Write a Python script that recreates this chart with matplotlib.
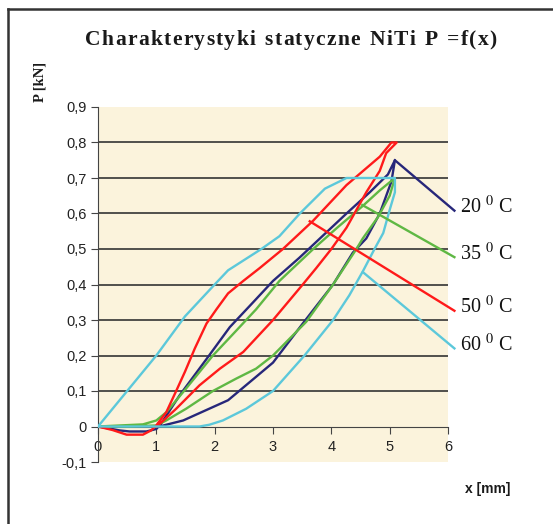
import numpy as np
import matplotlib.pyplot as plt
from matplotlib.lines import Line2D

plt.rcParams['font.family'] = ['Liberation Sans', 'DejaVu Sans']
plt.rcParams['mathtext.fontset'] = 'stix'

# 20 C - dip, loading branch, unloading branch
x20 = [0, 0.37, 0.54, 0.83, 1.0, 1.09, 1.4, 1.86, 2.26, 2.66, 3.0, 3.45, 4.26, 4.66, 4.97, 5.09,
       5.03, 4.83, 4.6, 4.37, 4.03, 3.51, 3.0, 2.71, 2.23, 1.46, 1.05]
y20 = [0, -0.011, -0.014, -0.014, -0.007, 0.01, 0.088, 0.19, 0.28, 0.35, 0.41, 0.475, 0.60, 0.66, 0.71, 0.75,
       0.69, 0.60, 0.53, 0.49, 0.40, 0.29, 0.18, 0.14, 0.074, 0.017, 0.0]

# 35 C
x35 = [0, 0.77, 1.0, 1.17, 1.51, 1.97, 2.37, 2.71, 3.11, 3.69, 4.1, 4.53, 4.83, 5.09,
       5.0, 4.8, 4.54, 4.43, 4.03, 3.57, 3.0, 2.71, 2.37, 1.97, 1.51, 1.17, 1.0, 0.5, 0]
y35 = [0, 0.006, 0.017, 0.04, 0.107, 0.2, 0.27, 0.33, 0.41, 0.50, 0.56, 0.62, 0.665, 0.70,
       0.65, 0.59, 0.53, 0.50, 0.40, 0.295, 0.2, 0.163, 0.135, 0.10, 0.05, 0.017, 0.003, 0.0, 0]

# 50 C
x50 = [0, 0.25, 0.49, 0.77, 0.91, 1.0, 1.03, 1.17, 1.34, 1.49, 1.66, 1.86, 2.03, 2.23, 2.49, 2.77, 3.17,
       3.69, 4.26, 4.83, 5.03, 5.12,
       4.94, 4.83, 4.6, 4.26, 4.0, 3.74, 3.51, 3.0, 2.49, 2.09, 1.74, 1.34, 1.09, 1.0]
y50 = [0, -0.01, -0.023, -0.023, -0.011, 0.003, 0.01, 0.04, 0.10, 0.154, 0.22, 0.29, 0.33, 0.375, 0.41, 0.446, 0.50,
       0.58, 0.68, 0.76, 0.80, 0.80,
       0.77, 0.72, 0.66, 0.56, 0.50, 0.446, 0.40, 0.30, 0.21, 0.163, 0.116, 0.05, 0.012, 0.0]

# 60 C
x60 = [0, 1.0, 1.49, 2.0, 2.23, 2.8, 3.11, 3.46, 3.89, 4.26, 5.09,
       5.09, 5.0, 4.89, 4.74, 4.54, 4.31, 4.03, 3.8, 3.54, 3.0, 2.54, 2.14, 1.91, 1.74, 0]
y60 = [0, 0.2, 0.31, 0.40, 0.44, 0.5, 0.536, 0.60, 0.67, 0.70, 0.70,
       0.66, 0.61, 0.545, 0.50, 0.437, 0.37, 0.30, 0.253, 0.2, 0.10, 0.05, 0.017, 0.005, 0, 0]

labels = ['20', '35', '50', '60']
colors = ['#27277a', '#5fb844', '#ff1a1a', '#5cc8da']
# leader line: point on curve -> label
lead_from = [(5.09, 0.75), (4.53, 0.624), (3.63, 0.578), (4.54, 0.435)]
lead_to = [(6.11, 0.608), (6.11, 0.477), (6.11, 0.326), (6.11, 0.22)]

title = 'Charakterystyki statyczne NiTi P =f(x)'

fig = plt.figure(figsize=(5.53, 5.24), dpi=100)
ax = fig.add_axes([98/553, 62/524, 350/553, 355/524])
ax.set_facecolor('#fbf3dc')

for y in np.arange(0.1, 0.85, 0.1):
    ax.axhline(y, color='#333333', lw=1.2, zorder=1)

series = [(x20, y20), (x35, y35), (x50, y50), (x60, y60)]
for (xs, ys), c in zip(series, colors):
    ax.plot(xs, ys, color=c, lw=1.7, zorder=3)

for lab, c, p0, p1 in zip(labels, colors, lead_from, lead_to):
    ax.plot([p0[0], p1[0]], [p0[1], p1[1]], color=c, lw=1.7, clip_on=False, zorder=3)
    ax.text(p1[0] + 0.09, p1[1] + 0.01, lab + r' $^{0}$ C', family='Liberation Serif',
            fontsize=14.5, va='center', ha='left', color='#111111')

ax.set_xlim(0, 6)
ax.set_ylim(-0.1, 0.9)
ax.spines['top'].set_visible(False)
ax.spines['right'].set_visible(False)
ax.spines['bottom'].set_position(('data', 0))
ax.spines['bottom'].set_color('#444444')
ax.spines['left'].set_color('#444444')

ax.set_xticks(range(7))
ax.set_xticklabels([str(i) for i in range(7)])
yt = np.round(np.arange(-0.1, 0.95, 0.1), 1)
ax.set_yticks(yt)
ax.set_yticklabels([('%g' % v).replace('.', ',') for v in yt])
ax.tick_params(axis='both', direction='out', length=5, color='#444444',
               labelsize=10.5, labelcolor='#222222')
ax.tick_params(axis='x', pad=5)
ax.tick_params(axis='y', pad=3)

# title with letter spacing, placed char by char
renderer = fig.canvas.get_renderer()
tkw = dict(family='Liberation Serif', weight='bold', fontsize=15.5, color='#1a1a1a', va='center')
widths = []
for ch in title:
    t = fig.text(0, 0, ch if ch != ' ' else 'n', **tkw)
    w = t.get_window_extent(renderer).width
    widths.append(w * 0.55 if ch == ' ' else w)
    t.remove()
track = (412 - sum(widths)) / (len(title) - 1)
xpos = 85.0
for ch, w in zip(title, widths):
    if ch != ' ':
        fig.text(xpos / 553, 1 - 40/524, ch, ha='left', **tkw)
    xpos += w + track

fig.text(40/553, 1 - 82/524, 'P [kN]', family='Liberation Serif', weight='bold',
         fontsize=10.5, rotation=90, ha='center', va='center', color='#1a1a1a')
fig.text(488/553, 1 - 489/524, 'x [mm]', weight='bold', fontsize=10,
         ha='center', va='center', color='#1a1a1a')

# frame (top and left edge)
fig.add_artist(Line2D([8/553, 8/553], [0, 1 - 9/524], color='#333333', lw=1.8))
fig.add_artist(Line2D([8/553, 1], [1 - 9/524, 1 - 9/524], color='#333333', lw=1.8))

fig.savefig('out.png', dpi=100)
